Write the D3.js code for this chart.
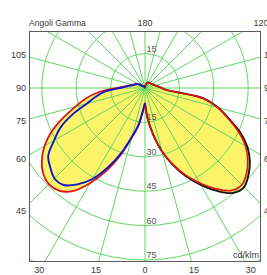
<!DOCTYPE html>
<html>
<head>
<meta charset="utf-8">
<script src="https://cdn.jsdelivr.net/npm/d3@7"></script>
<style>
  body { margin: 0; background: #fff; }
  svg { display: block; font-family: "Liberation Sans", Arial, sans-serif; }
</style>
</head>
<body>
<div id="chart"></div>
<script>
// DATA #####################################################
// gamma angles (0 = straight down, 180 = straight up)
const gammas = [0, 5, 10, 15, 20, 25, 30, 35, 40, 45, 50, 55, 60, 65, 70, 75, 80, 85, 90,
                95, 100, 105, 110, 115, 120, 125, 130, 135, 140, 145, 150, 155, 160, 165, 170, 175, 180];

// intensities in cd/klm, one value per gamma
const blackRight = [6.5, 13.5, 20.8, 28.7, 35.8, 42.6, 48.8, 54.8, 59.7, 61.1, 58.9, 55.8, 51.6, 45.8, 38.8, 33.1, 25.7, 9.2, 7.3,
                    6.1, 5.2, 4.6, 4.1, 3.8, 3.5, 3.3, 3.1, 3.0, 2.9, 2.8, 2.8, 2.7, 2.2, 1.5, 0.9, 0.4, 0.2];
const redRight   = [6.5, 13.5, 20.8, 28.7, 35.3, 41.9, 47.8, 53.6, 58.4, 59.7, 57.8, 54.7, 50.6, 44.9, 38.4, 32.7, 25.5, 9.2, 7.3,
                    6.1, 5.2, 4.6, 4.1, 3.8, 3.5, 3.3, 3.1, 3.0, 2.9, 2.8, 2.8, 2.7, 2.2, 1.5, 0.9, 0.4, 0.2];
const redLeft    = [6.5, 9.9, 16.7, 22.4, 31.2, 39.9, 48.0, 54.9, 58.4, 59.3, 58.0, 54.9, 50.6, 44.9, 37.9, 31.4, 26.2, 20.1, 12.2,
                    8.7, 6.8, 5.5, 4.7, 4.1, 3.3, 2.2, 1.5, 1.1, 0.9, 0.7, 0.6, 0.5, 0.4, 0.3, 0.3, 0.2, 0.2];
const blueLeft   = [6.5, 9.8, 16.4, 22.0, 30.1, 38.1, 45.8, 51.3, 55.2, 55.8, 53.9, 51.5, 45.8, 40.6, 33.6, 26.2, 21.8, 17.4, 10.9,
                    7.9, 6.3, 5.2, 4.6, 4.1, 3.1, 2.0, 1.3, 1.0, 0.9, 0.7, 0.6, 0.5, 0.4, 0.3, 0.3, 0.2, 0.2];

const circleTicks = [15, 30, 45, 60, 75, 90];
const circleLabelsBelow = [15, 30, 45, 60, 75];
const circleLabelsAbove = [15];
const rayAngles = [0, 15, 30, 45, 60, 75, 90, 105, 120, 135, 150, 165, 180, 195, 210, 225, 240, 255, 270, 285, 300, 315, 330, 345];
const sideLabels = [105, 90, 75, 60, 45];
const bottomLabels = [-30, -15, 0, 15, 30];
const topLabels = [180, 120];

// LAYOUT ###################################################
const width = 267, height = 275;
const frame = { left: 29, top: 31, right: 260, bottom: 261 };
const cx = 145, cy = 88;
const labelBox = { dx: 123, top: 67, bottom: 183 };

const gridColor = "#5fd85f";
const textColor = "#3a3a3a";

const rScale = d3.scaleLinear().domain([0, 75]).range([0, 172]);
const rad = d => d * Math.PI / 180;

const svg = d3.select("#chart").append("svg")
    .attr("width", width)
    .attr("height", height);

svg.append("clipPath").attr("id", "frameClip")
  .append("rect")
    .attr("x", frame.left).attr("y", frame.top)
    .attr("width", frame.right - frame.left)
    .attr("height", frame.bottom - frame.top);

const plot = svg.append("g").attr("clip-path", "url(#frameClip)");
const g = plot.append("g").attr("transform", `translate(${cx},${cy})`);

// polar line: right half uses angle PI - gamma, left half PI + gamma
const radial = side => d3.lineRadial()
    .angle((d, i) => side === "right" ? Math.PI - rad(gammas[i]) : Math.PI + rad(gammas[i]))
    .radius(d => rScale(d))
    .curve(d3.curveCatmullRom);

const series = [
  { values: blackRight, side: "right", color: "#111111", w: 1.9 },
  { values: redRight,   side: "right", color: "#e01414", w: 1.6 },
  { values: redLeft,    side: "left",  color: "#e01414", w: 1.8 },
  { values: blueLeft,   side: "left",  color: "#1515c8", w: 1.9 }
];

// YELLOW FILL ----------------------------------------------
g.selectAll("path.fill")
  .data(series)
  .join("path")
    .attr("class", "fill")
    .attr("d", s => radial(s.side)(s.values) + "Z")
    .attr("fill", "#fbf46a")
    .attr("stroke", "none");

// GRID -----------------------------------------------------
g.selectAll("circle.grid")
  .data(circleTicks)
  .join("circle")
    .attr("class", "grid")
    .attr("r", d => rScale(d))
    .attr("fill", "none")
    .attr("stroke", gridColor)
    .attr("stroke-width", 1);

g.selectAll("line.ray")
  .data(rayAngles)
  .join("line")
    .attr("class", "ray")
    .attr("x1", 0).attr("y1", 0)
    .attr("x2", d => 400 * Math.sin(rad(d)))
    .attr("y2", d => 400 * Math.cos(rad(d)))
    .attr("stroke", gridColor)
    .attr("stroke-width", 1);

// circle values on the vertical axis
g.selectAll("text.rlab-below")
  .data(circleLabelsBelow)
  .join("text")
    .attr("class", "rlab-below")
    .attr("x", 1.5)
    .attr("y", d => rScale(d) - 2)
    .style("font-size", "9px")
    .style("fill", "#555")
    .text(d => d);

g.selectAll("text.rlab-above")
  .data(circleLabelsAbove)
  .join("text")
    .attr("class", "rlab-above")
    .attr("x", 1.5)
    .attr("y", d => -rScale(d) - 2)
    .style("font-size", "9px")
    .style("fill", "#555")
    .text(d => d);

// CURVES ---------------------------------------------------
g.selectAll("path.curve")
  .data(series)
  .join("path")
    .attr("class", "curve")
    .attr("d", s => radial(s.side)(s.values))
    .attr("fill", "none")
    .attr("stroke", s => s.color)
    .attr("stroke-width", s => s.w)
    .attr("stroke-linejoin", "round");

// FRAME ----------------------------------------------------
svg.append("rect")
    .attr("x", frame.left + 0.5).attr("y", frame.top + 0.5)
    .attr("width", frame.right - frame.left)
    .attr("height", frame.bottom - frame.top)
    .attr("fill", "none")
    .attr("stroke", "#5a5a5a")
    .attr("stroke-width", 1);

svg.append("text")
    .attr("x", frame.right - 1)
    .attr("y", frame.bottom - 3)
    .attr("text-anchor", "end")
    .style("font-size", "9px")
    .style("fill", textColor)
    .text("cd/klm");

// ANGLE LABELS ---------------------------------------------
svg.append("text")
    .attr("x", frame.left)
    .attr("y", 26)
    .style("font-size", "8.6px")
    .style("fill", textColor)
    .text("Angoli Gamma");

const sideY = a => cy + labelBox.dx / Math.tan(rad(a));

svg.selectAll("text.left-lab")
  .data(sideLabels)
  .join("text")
    .attr("class", "left-lab")
    .attr("x", frame.left - 3)
    .attr("y", d => sideY(d) + 3)
    .attr("text-anchor", "end")
    .style("font-size", "9px")
    .style("fill", textColor)
    .text(d => d);

// right-hand labels run past the edge, as in the original
svg.selectAll("text.right-lab")
  .data(sideLabels)
  .join("text")
    .attr("class", "right-lab")
    .attr("x", frame.right + 4)
    .attr("y", d => sideY(d) + 3)
    .style("font-size", "9px")
    .style("fill", textColor)
    .text(d => d);

svg.selectAll("text.bottom-lab")
  .data(bottomLabels)
  .join("text")
    .attr("class", "bottom-lab")
    .attr("x", d => cx + labelBox.bottom * Math.tan(rad(d)))
    .attr("y", 273)
    .attr("text-anchor", "middle")
    .style("font-size", "9px")
    .style("fill", textColor)
    .text(d => Math.abs(d));

svg.selectAll("text.top-lab")
  .data(topLabels)
  .join("text")
    .attr("class", "top-lab")
    .attr("x", d => cx - labelBox.top * Math.tan(rad(d)))
    .attr("y", 26)
    .attr("text-anchor", "middle")
    .style("font-size", "9px")
    .style("fill", textColor)
    .text(d => d);
</script>
</body>
</html>
